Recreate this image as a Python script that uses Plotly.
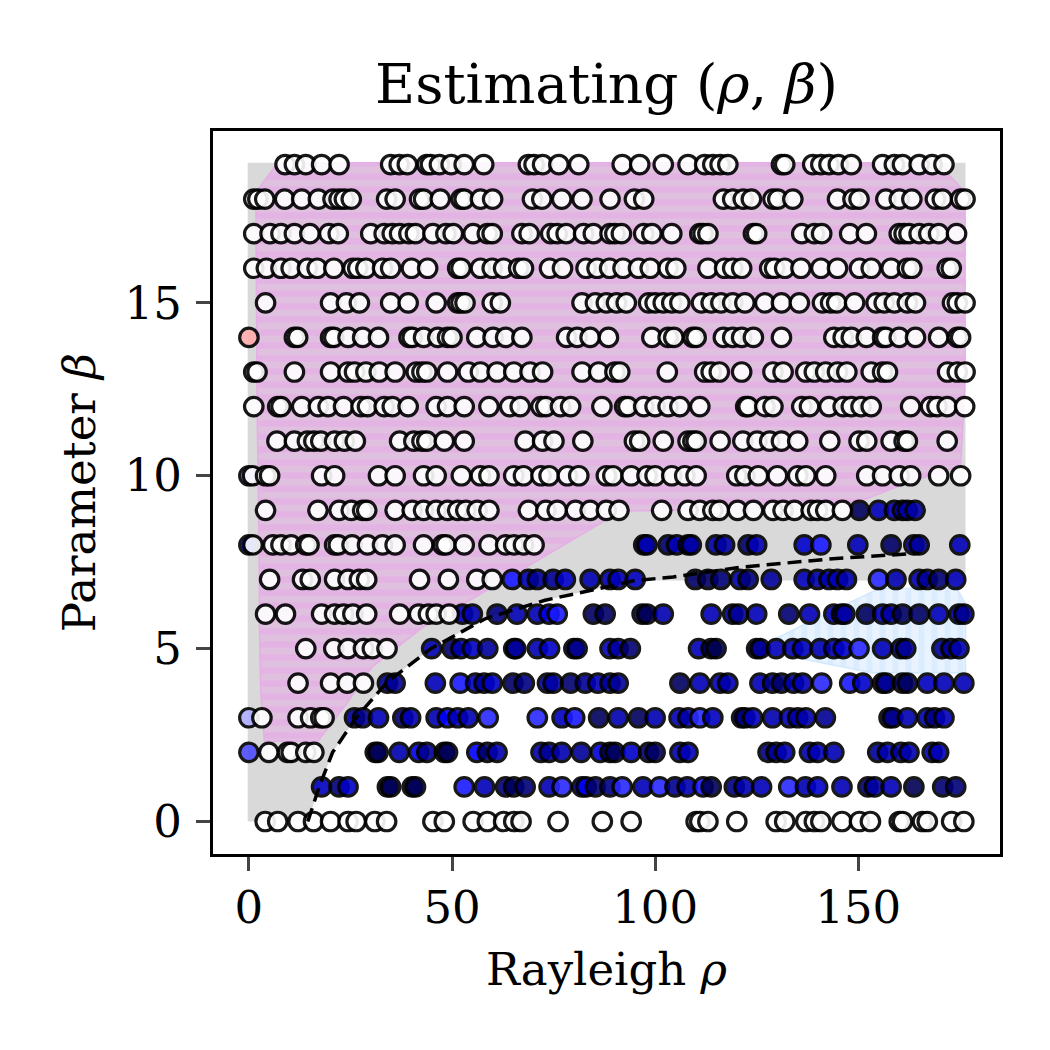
import plotly.graph_objects as go

# rho values of the white points, one list per beta row
rho_19 = [8.9, 11.2, 14, 17.9, 22.2, 34.9, 37, 39, 43.8, 44.7, 46.9, 49.8, 53, 57.8, 68.8, 70.2, 72.3, 76.3, 81.2, 91.9, 96.2, 102, 108.1, 112.2, 114.2, 116, 117.9, 131.1, 131.9, 138.8, 140.8, 142.8, 145.1, 148.3, 156, 158.9, 160.9, 165, 168.2, 171.1]
rho_18 = [1.2, 2.2, 3.9, 8.8, 13, 17.1, 20.7, 22.2, 23.5, 25.2, 33.9, 36, 42, 43, 47.1, 52.2, 53, 57, 60, 69.8, 72.1, 77, 82, 88.9, 94.9, 97.2, 116.8, 119.1, 121.7, 123.7, 129, 130.2, 133.9, 144.9, 148.7, 150.2, 156.8, 160.1, 163.2, 169, 170.7, 175.2, 176.3]
rho_17 = [1.2, 5.2, 7.9, 11.2, 15, 19.7, 22, 30, 33.3, 35.3, 37.1, 39.4, 41, 45.3, 48.5, 50.3, 55.2, 58.7, 59.9, 67.2, 69, 74.3, 75.9, 78.1, 82.4, 84.8, 88.9, 90.1, 91.7, 97.2, 99.2, 104.1, 111, 111.8, 113, 124.2, 125, 136.1, 139.2, 141, 147.9, 152, 160.1, 161.3, 162.5, 165, 167.4, 169.8, 174.2]
rho_16 = [1.2, 4.3, 7.9, 10.4, 14.4, 16.8, 20.9, 25.6, 26.8, 28.8, 32.9, 34.9, 40, 44, 51.4, 52.2, 57, 59.9, 62.7, 66.4, 67.6, 74, 77.2, 83, 85.7, 88.8, 92.1, 95.9, 98.8, 103.2, 105.1, 113, 117.1, 119.1, 121.3, 128.2, 129.4, 131.9, 135.9, 140.8, 144.9, 150.3, 153.2, 158.1, 162.1, 163.2, 171.9, 172.9]
rho_15 = [4.1, 20.1, 24, 27.2, 34.9, 39.2, 46.1, 51.4, 52.2, 53.2, 59.9, 61.9, 82, 85.3, 88, 90.5, 92.9, 98.4, 100, 102, 104.1, 106.1, 111.4, 113.8, 116.2, 119.1, 122.1, 127, 131.1, 135.5, 141.2, 143.2, 144.7, 149.1, 154.4, 156.4, 158.9, 162.1, 164.1, 173.2, 174.4, 176.3]
rho_14 = [11.2, 12, 20.1, 20.9, 24.4, 28, 31.9, 39.4, 40.2, 43, 46.5, 48.9, 50, 56.1, 60.1, 63.2, 67.2, 78.2, 80.8, 84, 88.5, 99.2, 103.2, 104.6, 109.3, 110.1, 116.8, 119.1, 121.3, 124.2, 131.1, 144, 146.3, 148.3, 152, 156, 156.8, 160.1, 164.1, 169.8, 174.4, 175.2]
rho_13 = [1.2, 2, 11.2, 20.1, 24.4, 26, 28.8, 32.1, 36, 41.2, 42.6, 43.8, 48.9, 54, 57, 61.1, 65.2, 69.2, 72.3, 82, 86.1, 90.1, 91.3, 103, 112.2, 113.8, 115.8, 121.3, 129, 131.5, 137.1, 139.2, 142, 144.9, 147.2, 153.2, 156, 157.2, 172, 174.4, 176.3]
rho_12 = [1.2, 7.1, 7.9, 13, 17.1, 19.5, 23.3, 27.6, 29.2, 33.3, 35.3, 39.2, 46.1, 48.9, 53, 59.1, 64.2, 66.8, 71.9, 73.1, 76.7, 79.2, 86.9, 92.5, 93.3, 97.2, 100, 103.2, 106.1, 111, 122.3, 122.9, 127, 129, 136.1, 138, 142.8, 146.3, 148.3, 150.7, 153.2, 162.9, 167.8, 169.4, 171.9, 176.2]
rho_11 = [6.9, 11.2, 14.4, 16, 17.7, 21.1, 23.5, 26.2, 37.1, 40.6, 42.6, 43.8, 48.1, 53, 68, 72.3, 75.1, 82.2, 94.9, 96.2, 102, 108.1, 109.3, 110.1, 116, 121.6, 125.1, 128.2, 131.1, 135.1, 143, 150.2, 152.1, 158.1, 161.3, 162.1, 171.9]
rho_10 = [0.9, 4.1, 5.1, 17.9, 21.1, 31.9, 36, 43, 46.1, 52.3, 57, 59.1, 65.2, 67.6, 71.9, 73.9, 78.4, 81.2, 88, 89.6, 94.1, 98, 100, 104.1, 107.3, 110.1, 120.1, 122.1, 125.4, 130.1, 135.1, 137.1, 142, 152.1, 156, 160.1, 162.9, 169.8, 175.2]
rho_9 = [4.1, 17, 22.2, 25.2, 28, 29, 36, 40.2, 43, 46.1, 48.9, 51.4, 53.4, 56.2, 59.1, 68.8, 73.1, 75.9, 80.4, 84, 88, 91.1, 101.6, 108.1, 111, 114.2, 115.8, 120.3, 124.2, 129, 131.5, 134.3, 138.4, 140, 142, 146.1]
rho_8 = [1, 5.9, 7.9, 10.4, 14, 14.8, 21.1, 22, 25.4, 29.2, 32.9, 36, 43, 47.7, 48.5, 53, 59.1, 63.2, 65.2, 67.6, 70.2]
rho_7 = [5.1, 13.2, 15.1, 21.1, 24.4, 27.2, 29, 42, 49.1, 56.1, 59.9]
rho_6 = [4.1, 9, 17.9, 21.1, 23.3, 25.6, 29, 37.1, 41.8, 44.2, 46.1, 49.3]
rho_5 = [14, 20.9, 24.4, 28.2, 30.4, 34]
rho_4 = [12.1, 20.1, 24.2, 28.2]
rho_3 = [3.2, 12.1, 15.2, 17.7, 18.5]
rho_2 = [4.9, 9.5, 10.4, 14, 16]
rho_0 = [4, 7.1, 12.1, 15.9, 20.1, 24.4, 26.4, 31, 33.9, 45.3, 48.1, 55.2, 58.7, 62.7, 65.2, 67, 76.1, 87, 94.1, 110.1, 111, 113, 120.1, 129.8, 131.9, 137.1, 139.2, 140.8, 146, 150.3, 153, 160.1, 160.9, 165.8, 167, 173, 176]

# blue points and their colour value
blue_9 = [150.3, 155, 158.9, 160.9, 162.1, 164]
score_9 = [-0.95, -0.7, -0.7, -0.7, -0.75, -0.75]
blue_8 = [97.2, 98, 103.2, 105.3, 108.1, 108.9, 115, 117.1, 122.9, 125, 136.7, 140.8, 149.9, 158.1, 163.7, 165, 175]
score_8 = [-0.8, -0.72, -0.9, -0.7, -0.75, -0.75, -0.75, -0.75, -0.9, -0.7, -0.65, -0.45, -0.7, -0.93, -0.7, -0.78, -0.7]
blue_7 = [64.8, 68.8, 71, 74.9, 77.9, 84, 88.9, 90.9, 95.1, 109.9, 113, 116.2, 120.9, 122.9, 128.6, 136.7, 140, 142.8, 144.9, 147.1, 155, 159.3, 165, 167, 169.8, 174]
score_7 = [-0.45, -0.7, -0.78, -0.8, -0.65, -0.72, -0.7, -0.7, -0.68, -0.93, -0.95, -0.88, -0.72, -0.85, -0.78, -0.7, -0.75, -0.7, -0.7, -0.72, -0.42, -0.72, -0.72, -0.78, -0.9, -0.7]
blue_6 = [52.6, 55, 61.1, 66, 71, 73.9, 75.9, 84.8, 87.7, 96.8, 98, 102, 113.8, 119.1, 120.5, 125, 132.9, 138, 144, 145.9, 146.7, 152, 156, 158.1, 160.9, 165, 169.8, 174.8, 176]
score_6 = [-0.68, -0.72, -0.85, -0.72, -0.7, -0.55, -0.45, -0.95, -0.93, -0.95, -0.97, -0.72, -0.7, -0.75, -0.78, -0.7, -0.9, -0.7, -0.7, -0.75, -0.75, -0.95, -0.72, -0.75, -0.95, -0.93, -0.7, -0.75, -0.8]
blue_5 = [45, 50, 52.2, 55, 58.8, 65.2, 65.7, 71, 74, 80, 80.8, 88.9, 90.9, 93.9, 110.7, 113.8, 115, 125, 125.9, 129.8, 133.9, 136.3, 140.6, 144, 146.3, 150.2, 156, 160.5, 161.7, 170.6, 172.8, 174.8]
score_5 = [-0.72, -0.9, -0.72, -0.68, -0.78, -0.8, -0.78, -0.72, -0.65, -0.8, -0.82, -0.7, -0.75, -0.9, -0.7, -0.97, -0.98, -0.88, -0.78, -0.7, -0.72, -0.68, -0.72, -0.72, -0.65, -0.42, -0.7, -0.9, -0.78, -0.8, -0.8, -0.72]
blue_4 = [34.1, 36, 45.9, 52, 55.8, 57.9, 59.9, 65, 67.8, 73.5, 74.9, 79.2, 82.8, 85.9, 88.9, 90.9, 106.1, 111, 116, 117.9, 125.8, 128.9, 131.1, 134.1, 136.3, 141, 147.9, 151.1, 156, 156.8, 160.9, 162.1, 167, 171.1, 176]
score_4 = [-0.8, -0.78, -0.7, -0.45, -0.68, -0.75, -0.65, -0.93, -0.85, -0.75, -0.75, -0.9, -0.82, -0.7, -0.75, -0.78, -0.95, -0.7, -0.7, -0.72, -0.7, -0.8, -0.9, -0.72, -0.7, -0.42, -0.45, -0.65, -0.72, -0.8, -0.9, -0.93, -0.68, -0.7, -0.7]
blue_3 = [26, 28, 31.9, 37.9, 39.8, 46.1, 48.9, 51.4, 54, 58.9, 71, 77.1, 80.2, 86.1, 90.9, 95.9, 100, 105.9, 108.1, 111, 114.2, 121.3, 122.1, 124, 128.9, 133.1, 135.1, 137.1, 141.9, 157.6, 158.5, 162.1, 167, 168.8, 171.1]
score_3 = [-0.78, -0.82, -0.7, -0.9, -0.7, -0.72, -0.5, -0.68, -0.7, -0.42, -0.42, -0.68, -0.45, -0.95, -0.72, -0.95, -0.72, -0.72, -0.72, -0.42, -0.68, -0.7, -0.85, -0.68, -0.72, -0.72, -0.75, -0.72, -0.8, -0.8, -0.82, -0.72, -0.7, -0.85, -0.7]
blue_2 = [31.1, 31.8, 37, 41.8, 43.8, 48.1, 48.9, 56.1, 58.7, 61.1, 71.9, 73.9, 77, 81.8, 86.5, 88.9, 90.1, 94.1, 98.4, 100, 106.1, 108.1, 127.8, 129.8, 131.9, 138, 140, 144, 154.8, 157.2, 160.5, 162.5, 168.2, 169.8]
score_2 = [-0.95, -0.97, -0.72, -0.55, -0.8, -0.9, -0.97, -0.5, -0.9, -0.72, -0.72, -0.78, -0.72, -0.78, -0.6, -0.85, -0.95, -0.65, -0.88, -0.93, -0.72, -0.7, -0.85, -0.8, -0.7, -0.72, -0.7, -0.72, -0.8, -0.72, -0.78, -0.72, -0.7, -0.7]
blue_1 = [17.9, 22.2, 24.4, 34.1, 34.9, 40.2, 41, 53, 58, 63.2, 65.2, 68, 73.9, 77.1, 82, 83, 85.3, 88.9, 91.9, 97, 101.1, 104.9, 107.9, 111.8, 113.8, 119.5, 121.9, 126.2, 132.9, 137, 140, 146, 152.4, 154, 158.1, 163.7, 170.8, 174]
score_1 = [-0.68, -0.88, -0.65, -0.95, -0.97, -0.95, -0.97, -0.45, -0.7, -0.88, -0.95, -0.88, -0.7, -0.42, -0.5, -0.55, -0.9, -0.85, -0.42, -0.7, -0.42, -0.82, -0.72, -0.45, -0.97, -0.85, -0.72, -0.7, -0.42, -0.72, -0.65, -0.7, -0.88, -0.75, -0.7, -0.98, -0.9, -0.88]

# the points sitting on rho = 0 that are tinted
edge_rho = [0, 0, 0, 0, 0]
edge_beta = [14, 10, 8, 3, 2]
edge_score = [0.165, -0.2, -0.6, -0.16, -0.35]

# shaded regions and dashed boundary
curve_rho = [14.5, 17.3, 20.6, 26.4, 34.1, 44.8, 58.3, 72.9, 86.4, 95, 104.4, 121.6, 143.7, 165]
curve_beta = [0, 1, 2, 3, 4.04, 5, 5.87, 6.4, 6.74, 6.97, 7.07, 7.36, 7.6, 7.76]
grey_rho = [-0.3, 14.5, 17.3, 20.6, 26.4, 34.1, 44.8, 58.3, 72.9, 86.4, 95, 176.4, 176.4, -0.3, -0.3]
grey_beta = [0, 0, 1, 2, 3, 4.04, 5, 5.87, 6.4, 6.74, 6.97, 6.97, 19.05, 19.05, 0]
purple_rho = [7.1, 170.6, 172.4, 176.3, 176.3, 175.5, 175.2, 160, 152, 140, 90.6, 87.7, 50.1, 43.5, 30.4, 23.9, 17, 3.8, 2.9, 2.6, 2.5, 2, 1.7, 1.7, 7.1]
purple_beta = [19.05, 19.05, 18.7, 18.2, 12.7, 10.7, 10.3, 9.7, 9.33, 9.05, 8.98, 8.7, 6.1, 5.68, 4.48, 3.38, 2.32, 2.32, 3.72, 5.62, 8, 12, 17.7, 18.2, 19.05]
blue_rho = [155.2, 174.3, 176.4, 176.4, 153.4, 135.5, 129.9, 137.2, 155.2]
blue_beta = [6.74, 6.74, 6.3, 4.3, 4.3, 4.72, 5.3, 5.73, 6.74]

x_ticks = [0, 50, 100, 150]
y_ticks = [0, 5, 10, 15]

seismic = [[0, "rgb(0,0,77)"], [0.25, "rgb(0,0,255)"], [0.5, "rgb(255,255,255)"],
           [0.75, "rgb(255,0,0)"], [1, "rgb(128,0,0)"]]

white_rows = {19: rho_19, 18: rho_18, 17: rho_17, 16: rho_16, 15: rho_15, 14: rho_14,
              13: rho_13, 12: rho_12, 11: rho_11, 10: rho_10, 9: rho_9, 8: rho_8, 7: rho_7,
              6: rho_6, 5: rho_5, 4: rho_4, 3: rho_3, 2: rho_2, 0: rho_0}
blue_rows = {9: (blue_9, score_9), 8: (blue_8, score_8), 7: (blue_7, score_7),
             6: (blue_6, score_6), 5: (blue_5, score_5), 4: (blue_4, score_4),
             3: (blue_3, score_3), 2: (blue_2, score_2), 1: (blue_1, score_1)}

xs, ys, cs = list(edge_rho), list(edge_beta), list(edge_score)
for beta, vals in blue_rows.items():
    xs += vals[0]
    ys += [beta] * len(vals[0])
    cs += vals[1]
for beta, vals in white_rows.items():
    xs += vals
    ys += [beta] * len(vals)
    cs += [0] * len(vals)

fig = go.Figure()

fig.add_trace(go.Scatter(x=grey_rho, y=grey_beta, mode="lines", fill="toself",
                         fillcolor="#d9d9d9", line=dict(width=0), hoverinfo="skip"))
fig.add_trace(go.Scatter(x=purple_rho, y=purple_beta, mode="lines", fill="toself",
                         fillcolor="#dfc0df",
                         fillpattern=dict(shape="-", fgcolor="#e8a8e8", bgcolor="#dfc0df",
                                          size=13, solidity=0.5),
                         line=dict(width=1.5, color="#e6aee6"), hoverinfo="skip"))
fig.add_trace(go.Scatter(x=blue_rho, y=blue_beta, mode="lines", fill="toself",
                         fillcolor="#e8f3ff",
                         fillpattern=dict(shape="|", fgcolor="#cfe6ff", bgcolor="#e8f3ff",
                                          size=13, solidity=0.45),
                         line=dict(width=1.5, color="#d2e8ff"), hoverinfo="skip"))

fig.add_trace(go.Scatter(x=xs, y=ys, mode="markers",
                         marker=dict(size=18.5, color=cs, colorscale=seismic, cmin=-1, cmax=1,
                                     opacity=0.9, line=dict(width=3.2, color="black"))))
fig.add_trace(go.Scatter(x=curve_rho, y=curve_beta, mode="lines",
                         line=dict(color="black", width=3.5, dash="14px,7px"), hoverinfo="skip"))

fig.update_layout(
    width=1050, height=1050, showlegend=False,
    paper_bgcolor="white", plot_bgcolor="white",
    margin=dict(l=205, r=58, t=123, b=204),
    font=dict(family="DejaVu Serif", size=45, color="black"),
    title=dict(text="Estimating (<i>ρ</i>, <i>β</i>)", font=dict(size=55),
               x=0.570, xanchor="center", y=0.9275, yanchor="middle"),
)
fig.update_xaxes(range=[-8.84, 184.9], tickvals=x_ticks, ticks="outside", ticklen=14, tickwidth=3.3,
                 showline=True, linewidth=3.3, linecolor="black", mirror=True,
                 showgrid=False, zeroline=False, ticklabelstandoff=-2,
                 title=dict(text="Rayleigh <i>ρ</i>", font=dict(size=45), standoff=21))
fig.update_yaxes(range=[-0.94, 19.97], tickvals=y_ticks, ticks="outside", ticklen=14, tickwidth=3.3,
                 showline=True, linewidth=3.3, linecolor="black", mirror=True,
                 showgrid=False, zeroline=False, ticklabelstandoff=5,
                 title=dict(text="Parameter <i>β</i>", font=dict(size=45), standoff=15))

fig.write_html("out.html")
